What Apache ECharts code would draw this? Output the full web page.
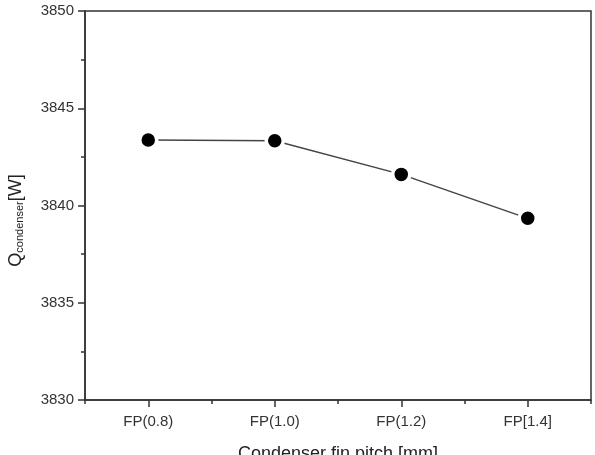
<!DOCTYPE html>
<html>
<head>
<meta charset="utf-8">
<script src="https://cdn.jsdelivr.net/npm/echarts@6/dist/echarts.min.js"></script>
<style>
  html, body { margin: 0; padding: 0; background: #fff; }
  #chart { width: 595px; height: 455px; }
</style>
</head>
<body>
<div id="chart"></div>
<script>
// values
const categories = ['FP(0.8)', 'FP(1.0)', 'FP(1.2)', 'FP[1.4]'];
const qCondenser = [3843.37, 3843.33, 3841.6, 3839.34];
const yMin = 3830;
const yMax = 3850;
const yStep = 5;

const axisColor = '#333';
const fontFamily = 'Liberation Sans, Arial, sans-serif';
const labelFont = {color: '#333', fontSize: 15, fontFamily};

const chart = echarts.init(document.getElementById('chart'), null, {renderer: 'canvas'});

chart.setOption({
    animation: false,
    grid: {
        left: 85, right: 4, top: 11, bottom: 55,
        containLabel: false,
        outerBoundsMode: 'none',
        show: true, borderColor: axisColor, borderWidth: 1.5, backgroundColor: 'transparent'
    },
    xAxis: [
        {
            type: 'category',
            data: categories,
            boundaryGap: true,
            axisLine: {show: true, lineStyle: {color: axisColor, width: 1.5}},
            axisTick: {show: true, alignWithLabel: true, length: 7, lineStyle: {color: axisColor, width: 1.5}},
            axisLabel: {...labelFont, margin: 14},
            splitLine: {show: false},
            name: 'Condenser fin pitch [mm]',
            nameLocation: 'middle',
            nameGap: 45,
            nameTextStyle: {color: '#222', fontSize: 18, fontFamily}
        },
        {
            // short ticks at the category boundaries
            type: 'category',
            data: categories,
            position: 'bottom',
            boundaryGap: true,
            axisLine: {show: false},
            axisTick: {show: true, alignWithLabel: false, length: 4, lineStyle: {color: axisColor, width: 1.5}},
            axisLabel: {show: false},
            splitLine: {show: false}
        }
    ],
    yAxis: {
        type: 'value',
        min: yMin,
        max: yMax,
        interval: yStep,
        axisLine: {show: true, lineStyle: {color: axisColor, width: 1.5}},
        axisTick: {show: true, length: 7, lineStyle: {color: axisColor, width: 1.5}},
        minorTick: {show: true, splitNumber: 2, length: 4, lineStyle: {color: axisColor, width: 1.5}},
        axisLabel: {...labelFont, margin: 11, formatter: (v) => String(v)},
        splitLine: {show: false},
        name: '{q|Q}{sub|condenser}{q|[W]}',
        nameLocation: 'middle',
        nameRotate: 90,
        nameGap: 60,
        nameTextStyle: {
            padding: [0, 30, 0, 0],
            rich: {
                q: {color: '#222', fontSize: 18, fontFamily, lineHeight: 21, verticalAlign: 'bottom'},
                sub: {color: '#222', fontSize: 11, fontFamily, lineHeight: 21, verticalAlign: 'bottom', padding: [8, 0, 0, 0]}
            }
        }
    },
    series: [
        {
            type: 'line',
            data: qCondenser,
            symbol: 'circle',
            symbolSize: 17,
            lineStyle: {color: '#444', width: 1.5},
            itemStyle: {color: '#000', borderColor: '#fff', borderWidth: 3.5},
            z: 3
        }
    ]
});
</script>
</body>
</html>
